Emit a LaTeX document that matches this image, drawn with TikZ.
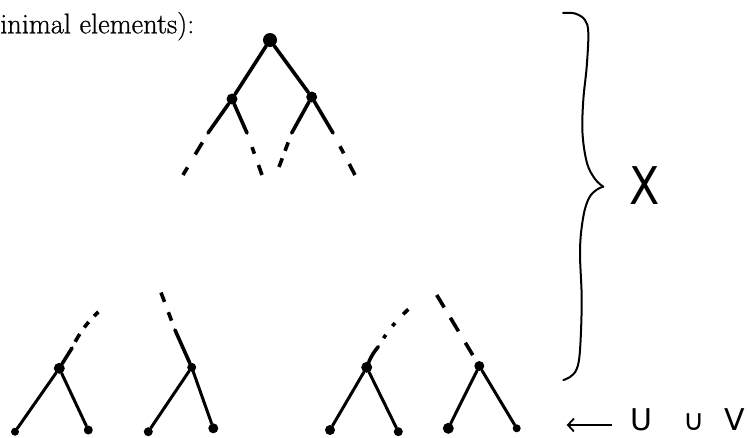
\documentclass[tikz,border=0pt]{standalone}
\usepackage{fontspec}
\newfontfamily\handfont{DejaVu Sans}
\newfontfamily\capfont{Latin Modern Roman}[FakeBold=0.7]
\usetikzlibrary{arrows.meta}
\begin{document}
\begin{tikzpicture}[x=1pt,y=-1pt,
  dotnode/.style={circle,fill=black,inner sep=0pt,minimum size=#1},
  branch/.style={line width=3.6pt,line cap=round},
  leafedge/.style={line width=3pt,line cap=round},
  dashbranch/.style={line width=3.6pt},
  bracestroke/.style={line width=2pt,line cap=round,line join=round},
  hand/.style={inner sep=0pt,font=\handfont\fontsize{#1}{#1}\selectfont}]
\useasboundingbox (0,0) rectangle (747,437);

% caption text
\node[anchor=base west,inner sep=0pt,font=\capfont\fontsize{28.4}{30}\selectfont] (cap) at (0,33.3) {inimal elements):};

% ---- top tree ----
\node[dotnode=14pt] (root) at (270,40) {};
\node[dotnode=11pt] (L) at (232,99) {};
\node[dotnode=11pt] (R) at (311.7,97) {};
\draw[branch] (root) -- (L);
\draw[branch] (root) -- (R);
\coordinate (LLs) at (208,133); \coordinate (LLe) at (183,175);
\coordinate (LRs) at (247,133); \coordinate (LRe) at (262,175);
\coordinate (RLs) at (291.7,133); \coordinate (RLe) at (279,167);
\coordinate (RRs) at (333,133); \coordinate (RRe) at (355,175);
\draw[branch] (L) -- (LLs);
\draw[branch] (L) -- (LRs);
\draw[branch] (R) -- (RLs);
\draw[branch] (R) -- (RRs);
\draw[dashbranch,dash pattern=on 14pt off 15pt on 9pt off 11pt,dash phase=38pt] (LLs) -- (LLe);
\draw[dashbranch,dash pattern=on 7pt off 12pt on 11pt off 15pt,dash phase=30pt] (LRs) -- (LRe);
\draw[dashbranch,dash pattern=on 9pt off 8pt on 10pt off 10pt,dash phase=27pt] (RLs) -- (RLe);
\draw[dashbranch,dash pattern=on 8pt off 12pt on 13pt off 15pt,dash phase=33pt] (RRs) -- (RRe);

% ---- bottom trees ----
% tree 1
\node[dotnode=11pt] (N1) at (59.3,368.3) {};
\node[dotnode=8pt] (A1) at (15,431.7) {};
\node[dotnode=9pt] (B1) at (88.3,430) {};
\draw[leafedge] (N1) -- (A1);
\draw[leafedge] (N1) -- (B1);
\coordinate (S1) at (72,348); \coordinate (E1) at (99.3,311);
\draw[branch] (N1) -- (S1);
\draw[dashbranch,dash pattern=on 9pt off 8pt on 7pt off 8pt on 6pt off 7pt,dash phase=38pt] (S1) to[bend left=10] (E1);
% tree 2
\node[dotnode=9pt] (N2) at (191.7,367.3) {};
\node[dotnode=9pt] (A2) at (148.3,431.7) {};
\node[dotnode=10pt] (B2) at (213.3,428.3) {};
\draw[leafedge] (N2) -- (A2);
\draw[leafedge] (N2) -- (B2);
\coordinate (S2) at (175,330); \coordinate (E2) at (160.7,291.7);
\draw[branch] (N2) -- (S2);
\draw[dashbranch,dash pattern=on 9pt off 11pt on 10pt off 10pt,dash phase=30pt] (S2) -- (E2);
% tree 3
\node[dotnode=11pt] (N3) at (366.7,367.3) {};
\node[dotnode=10pt] (A3) at (330,430) {};
\node[dotnode=9pt] (B3) at (398.3,431.7) {};
\draw[leafedge] (N3) -- (A3);
\draw[leafedge] (N3) -- (B3);
\coordinate (S3) at (378.3,346.7); \coordinate (E3) at (408.3,309.3);
\draw[branch] (N3) to[bend left=8] (S3);
\draw[dashbranch,dash pattern=on 4pt off 11pt on 4pt off 12pt on 8pt off 10pt,dash phase=39pt] (S3) to[bend left=8] (E3);
% tree 4
\node[dotnode=10pt] (N4) at (479.3,366) {};
\node[dotnode=11pt] (A4) at (448.3,428.3) {};
\node[dotnode=8pt] (B4) at (516.7,428.3) {};
\draw[leafedge] (N4) -- (A4);
\draw[leafedge] (N4) -- (B4);
\coordinate (E4) at (436.7,295);
\draw[dashbranch,dash pattern=on 14.4pt off 13.4pt on 15.8pt off 12pt on 15pt off 7.5pt,dash phase=70.6pt] (N4) -- (E4);

% ---- brace ----
\draw[bracestroke] plot[smooth,tension=0.6] coordinates {(563,13) (575,13.5) (585,20) (588.3,33.3) (586.7,66.7) (583.3,100) (582.5,133.3) (587,163) (595,179) (603.3,186.7)};
\draw[bracestroke] plot[smooth,tension=0.6] coordinates {(603.3,186.7) (597,189.5) (589,198) (583.3,216.7) (580,250) (581.7,300) (580,350) (576.7,369) (570,377) (563.3,380)};
\node[hand=52] (X) at (645,186) {\scalebox{0.85}[1]{X}};

% ---- U cup V with arrow ----
\node[hand=30,anchor=base] (U) at (641.7,430) {U};
\node[hand=29,anchor=base] (cup) at (694,430) {∪};
\node[hand=30,anchor=base] (V) at (735,430) {V};
\coordinate (arrstart) at (611.7,425);
\coordinate (arrtip) at (566.7,425);
\draw[line width=1.8pt,-{Straight Barb[length=6pt,width=13pt]}] (arrstart) -- (arrtip);
\end{tikzpicture}
\end{document}
